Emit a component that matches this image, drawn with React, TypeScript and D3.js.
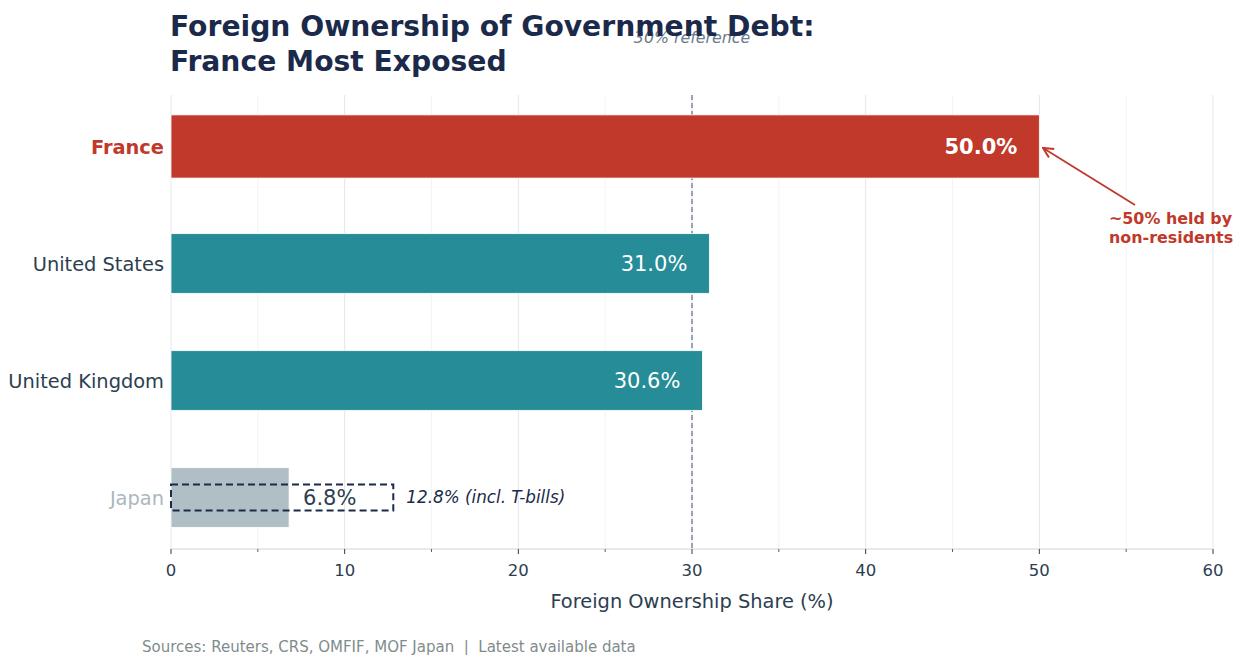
import React from "react";
import * as d3 from "d3";

const countries = ["France", "United States", "United Kingdom", "Japan"];
const shares = [50.0, 31.0, 30.6, 6.8];
const japanInclTBills = 12.8;
const referenceValue = 30;
const xTicks = [0, 10, 20, 30, 40, 50, 60];
const xMinorTicks = [5, 15, 25, 35, 45, 55];

const W = 1239;
const H = 655;
const FONT = "DejaVu Sans, sans-serif";
const NAVY = "#1b2a4a";
const TEXT = "#2c3e50";
const RED = "#c0392b";
const TEAL = "#268c97";
const GRAY_BAR = "#b0bec5";

export default function App() {
  const x = d3.scaleLinear().domain([0, 60]).range([171, 1213]);
  const y = d3.scaleLinear().domain([-0.44, 3.44]).range([95, 549]);
  const barColors = [RED, TEAL, TEAL, GRAY_BAR];
  const labelColors = [RED, TEXT, TEXT, "#aab7bd"];
  const barWidths = [0.54, 0.51, 0.51, 0.51];

  return (
    <svg width={W} height={H} style={{ position: "absolute", left: 0, top: 0, background: "#fff" }} fontFamily={FONT}>
      <defs>
        <marker id="arr" viewBox="0 0 10 10" refX="9" refY="5" markerWidth="7" markerHeight="7" orient="auto-start-reverse">
          <path d="M1,1 L9,5 L1,9" fill="none" stroke={RED} strokeWidth={1.6} />
        </marker>
      </defs>
      {/* grid */}
      {xMinorTicks.map((t) => (
        <line key={"m" + t} x1={x(t)} x2={x(t)} y1={95} y2={549} stroke="#f1f3f4" strokeWidth={1} />
      ))}
      {xTicks.map((t) => (
        <line key={"g" + t} x1={x(t)} x2={x(t)} y1={95} y2={549} stroke="#e3e6e8" strokeWidth={1} />
      ))}
      {/* reference line (behind bars) */}
      <line x1={x(referenceValue)} x2={x(referenceValue)} y1={95} y2={549} stroke="#7d8a9c" strokeWidth={1.5} strokeDasharray="5,3" />
      {/* bars */}
      {countries.map((c, i) => {
        const h = y(barWidths[i]) - y(0);
        return (
          <rect
            key={c}
            x={x(0)}
            y={y(i) - h / 2}
            width={x(shares[i]) - x(0)}
            height={h}
            fill={barColors[i]}
            stroke="#ffffff"
            strokeWidth={0.8}
          />
        );
      })}
      {/* Japan dashed box */}
      <rect
        x={x(0)}
        y={y(3) - 13}
        width={x(japanInclTBills) - x(0)}
        height={26}
        fill="none"
        stroke={NAVY}
        strokeWidth={2}
        strokeDasharray="7,4"
      />
      <text x={x(referenceValue)} y={43} textAnchor="middle" fontStyle="italic" fontSize={15.8} fill="#6c7a8d">
        30% reference
      </text>
      {/* value labels */}
      {countries.map((c, i) =>
        i < 3 ? (
          <text
            key={"v" + c}
            x={x(shares[i]) - 22}
            y={y(i)}
            dy="0.35em"
            textAnchor="end"
            fontSize={21}
            fontWeight={i === 0 ? "bold" : "normal"}
            fill="#ffffff"
          >
            {shares[i].toFixed(1)}%
          </text>
        ) : (
          <text key={"v" + c} x={x(shares[i]) + 14} y={y(i)} dy="0.35em" fontSize={21} fill={TEXT}>
            {shares[i].toFixed(1)}%
          </text>
        )
      )}
      <text x={x(japanInclTBills) + 13} y={y(3)} dy="0.35em" fontSize={16.8} fontStyle="italic" fill={NAVY}>
        {japanInclTBills.toFixed(1)}% (incl. T-bills)
      </text>
      {/* y labels */}
      {countries.map((c, i) => (
        <text
          key={"l" + c}
          x={164}
          y={y(i) + 1}
          dy="0.35em"
          textAnchor="end"
          fontSize={19.4}
          fontWeight={i === 0 ? "bold" : "normal"}
          fill={labelColors[i]}
        >
          {c}
        </text>
      ))}
      {/* axis */}
      <line x1={171} x2={1213} y1={549} y2={549} stroke="#cfd4d8" strokeWidth={1.2} />
      {xTicks.map((t) => (
        <g key={"t" + t}>
          <line x1={x(t)} x2={x(t)} y1={549} y2={554} stroke={TEXT} strokeWidth={1} />
          <text x={x(t)} y={576} textAnchor="middle" fontSize={16.5} fill={TEXT}>
            {t}
          </text>
        </g>
      ))}
      {xMinorTicks.map((t) => (
        <line key={"mt" + t} x1={x(t)} x2={x(t)} y1={549} y2={552} stroke={TEXT} strokeWidth={0.8} />
      ))}
      <text x={692} y={608} textAnchor="middle" fontSize={19.4} fill={TEXT}>
        Foreign Ownership Share (%)
      </text>
      {/* annotation */}
      <line x1={1135} y1={205} x2={1043} y2={148} stroke={RED} strokeWidth={1.8} markerEnd="url(#arr)" />
      <text x={1109} y={224} fontSize={15.9} fontWeight="bold" fill={RED}>
        ~50% held by
      </text>
      <text x={1109} y={243} fontSize={15.9} fontWeight="bold" fill={RED}>
        non-residents
      </text>
      {/* title */}
      <text x={170} y={36} fontSize={28.2} fontWeight="bold" fill={NAVY}>
        Foreign Ownership of Government Debt:
      </text>
      <text x={170} y={71} fontSize={28.2} fontWeight="bold" fill={NAVY}>
        France Most Exposed
      </text>
      {/* footer */}
      <text x={142} y={652} fontSize={15} fill="#7f8c8d" style={{ whiteSpace: "pre" }}>
        {"Sources: Reuters, CRS, OMFIF, MOF Japan  |  Latest available data"}
      </text>
    </svg>
  );
}
